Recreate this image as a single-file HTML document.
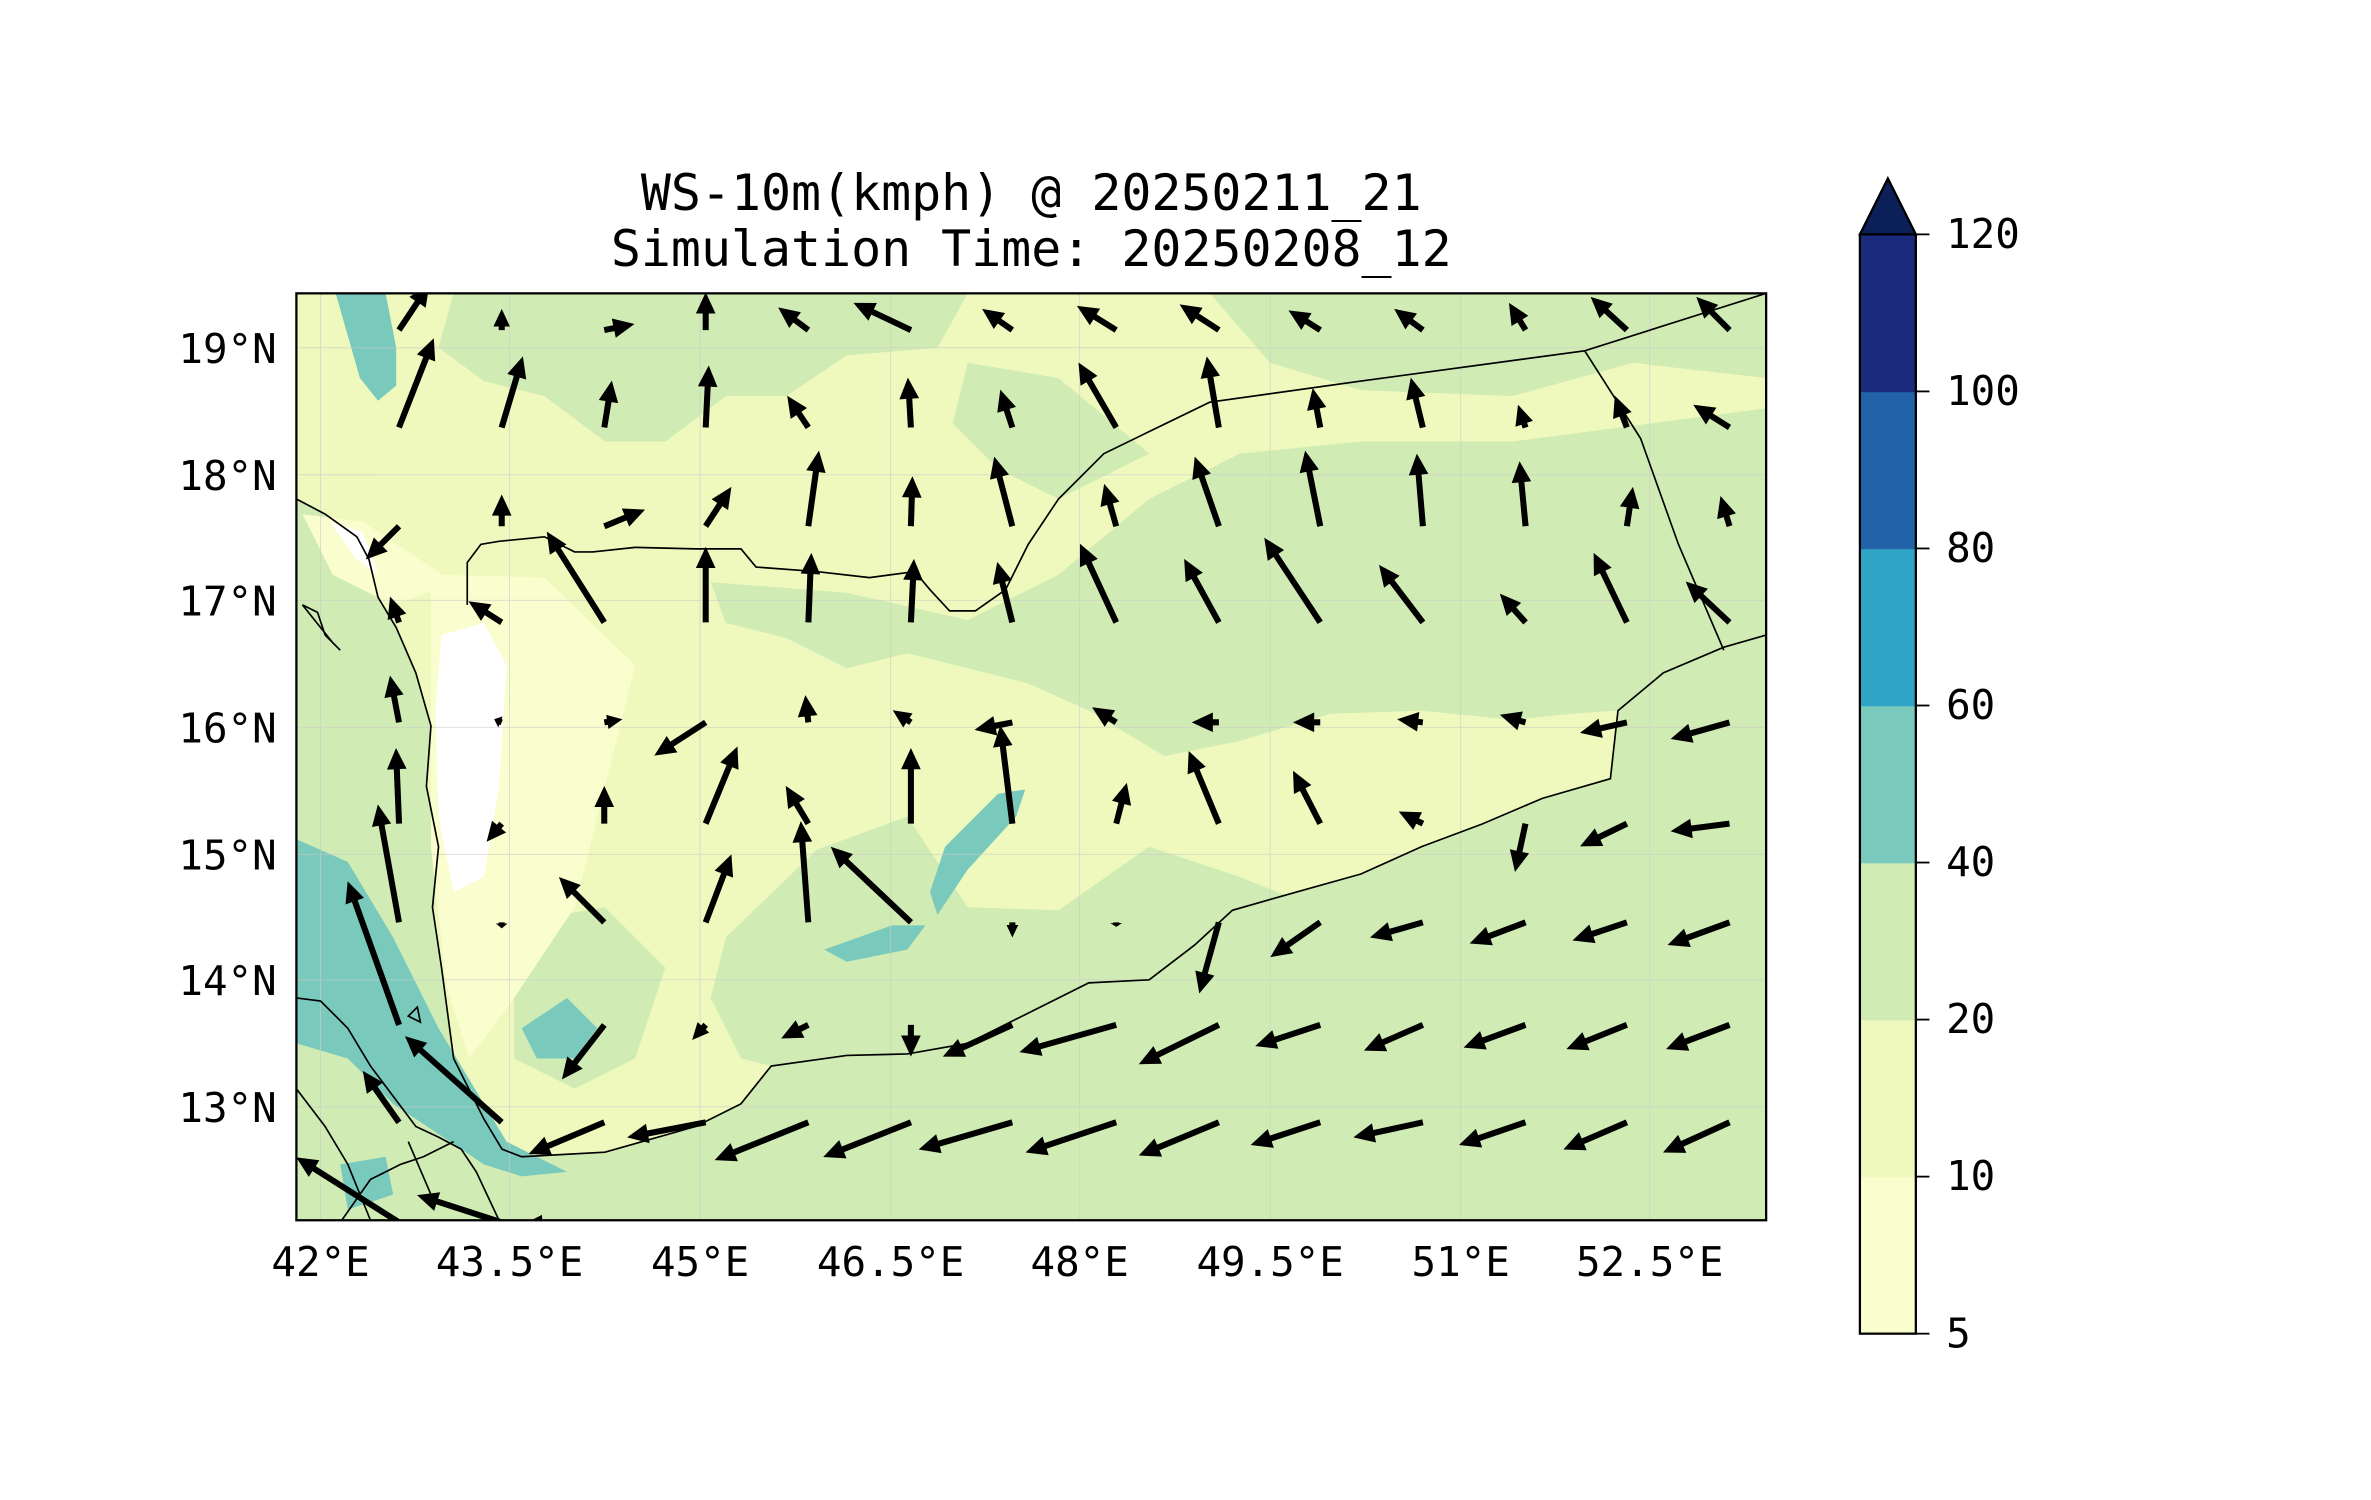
<!DOCTYPE html>
<html><head><meta charset="utf-8"><title>WS-10m wind chart</title>
<style>
html,body{margin:0;padding:0;background:#fff;}
svg{display:block;}
text{font-family:"DejaVu Sans Mono","Liberation Mono",monospace;fill:#000;}
</style></head>
<body>
<svg id="chart" width="2371" height="1500" viewBox="0 0 1568 992" xmlns="http://www.w3.org/2000/svg">
<defs><clipPath id="plotclip"><rect x="196" y="194" width="972" height="613"/></clipPath></defs>
<rect x="0" y="0" width="1568" height="992" fill="#fff"/>
<text x="682" y="139" font-size="33" text-anchor="middle">WS-10m(kmph) @ 20250211_21</text>
<text x="682" y="176" font-size="33" text-anchor="middle">Simulation Time: 20250208_12</text>
<g clip-path="url(#plotclip)">
 <rect x="196" y="194" width="972" height="613" fill="#d0ecb4"/>
 <path fill="#eff9bd" d="M196,330 L196,194 L1168,194 L1168,420 L1140,428 L1100,445 L1070,470 L1065,515 L1020,528 L980,545 L940,560 L900,578 L850,592 L815,602 L790,625 L760,648 L720,650 L680,670 L640,690 L600,697 L560,698 L510,705 L490,730 L460,745 L400,762 L345,765 L332,760 L320,740 L300,700 L292,640 L286,600 L290,560 L282,520 L285,480 L275,445 L262,415 L250,395 L244,370 L236,355 L215,340 Z"/>
 <g fill="#d0ecb4">
  <path d="M470,385 L560,392 L640,410 L700,380 L760,330 L820,300 L900,292 L1000,292 L1168,270 L1168,420 L1100,445 L1070,470 L1040,472 L1000,476 L940,470 L880,472 L820,490 L770,500 L720,470 L680,452 L640,442 L600,432 L560,442 L520,422 L480,412 Z"/>
  <path d="M300,194 L640,194 L620,230 L560,235 L520,262 L480,262 L440,292 L400,292 L360,262 L320,252 L290,230 Z"/>
  <path d="M640,240 L700,250 L760,300 L700,330 L660,310 L630,280 Z"/>
  <path d="M800,194 L1168,194 L1168,250 L1080,240 L1000,262 L900,258 L840,240 Z"/>
  <path d="M196,400 L240,400 L262,440 L280,520 L288,600 L240,570 L196,560 Z"/>
  <path d="M480,620 L540,562 L600,540 L640,600 L700,602 L760,560 L820,580 L850,592 L815,602 L790,625 L760,648 L720,650 L680,670 L640,690 L600,697 L560,698 L510,705 L490,700 L470,660 Z"/>
  <path d="M340,610 L400,600 L440,640 L420,700 L380,720 L340,700 Z"/>
 </g>
 <g>
  <path fill="#fafdce" d="M285,380 L360,382 L420,440 L400,520 L380,600 L340,660 L310,700 L295,650 L285,560 Z"/>
  <path fill="#fafdce" d="M200,340 L240,345 L300,385 L260,400 L220,380 Z"/>
  <path fill="#ffffff" d="M292,420 L320,412 L335,440 L330,520 L320,580 L300,590 L290,540 L288,470 Z"/>
  <path fill="#ffffff" d="M218,345 L240,352 L250,380 L236,370 Z"/>
 </g>
 <g fill="#79c9bc">
  <path d="M196,555 L230,570 L260,620 L290,680 L320,730 L335,755 L375,775 L345,778 L320,770 L290,750 L260,730 L230,700 L196,690 Z"/>
  <path d="M222,194 L255,194 L262,230 L262,255 L250,265 L238,250 L228,215 Z"/>
  <path d="M625,560 L660,525 L678,522 L672,540 L640,575 L620,605 L615,590 Z"/>
  <path d="M545,628 L590,612 L612,612 L600,628 L560,636 Z"/>
  <path d="M345,680 L375,660 L395,680 L380,700 L355,700 Z"/>
  <path d="M225,770 L255,765 L260,790 L230,800 Z"/>
 </g>
 <g stroke="#cccccc" stroke-width="0.6" opacity="0.7">
  <line x1="212" y1="194" x2="212" y2="807"/><line x1="337" y1="194" x2="337" y2="807"/><line x1="463" y1="194" x2="463" y2="807"/><line x1="589" y1="194" x2="589" y2="807"/><line x1="714" y1="194" x2="714" y2="807"/><line x1="840" y1="194" x2="840" y2="807"/><line x1="966" y1="194" x2="966" y2="807"/><line x1="1091" y1="194" x2="1091" y2="807"/>
  <line x1="196" y1="230" x2="1168" y2="230"/><line x1="196" y1="314" x2="1168" y2="314"/><line x1="196" y1="397" x2="1168" y2="397"/><line x1="196" y1="481" x2="1168" y2="481"/><line x1="196" y1="565" x2="1168" y2="565"/><line x1="196" y1="648" x2="1168" y2="648"/><line x1="196" y1="732" x2="1168" y2="732"/>
 </g>
 <g fill="none" stroke="#000" stroke-width="1.1">
  <path d="M1168,420 L1140,428 L1100,445 L1070,470 L1065,515 L1020,528 L980,545 L940,560 L900,578 L850,592 L815,602 L790,625 L760,648 L720,650 L680,670 L640,690 L600,697 L560,698 L510,705 L490,730 L460,745 L400,762 L345,765 L332,760 L320,740 L300,700 L292,640 L286,600 L290,560 L282,520 L285,480 L275,445 L262,415 L250,395 L244,370 L236,355 L215,340 L196,330"/>
  <path d="M309,400 L309,372 L318,360 L330,358 L360,355 L380,365 L392,365 L420,362 L460,363 L490,363 L500,375 L540,378 L575,382 L605,378 L615,390 L628,404 L645,404 L665,390 L680,360 L700,330 L730,300 L800,266 L900,252 L1048,232 L1168,194"/>
  <path d="M1048,232 L1085,290 L1110,360 L1140,430"/>
  <path d="M196,660 L212,662 L230,680 L245,705 L260,725 L275,745 L290,752 L305,760 L315,775 L330,807"/>
  <path d="M196,720 L215,745 L230,770 L245,807 M226,807 L245,780 L265,770 L280,765 L300,755 M270,755 L285,790"/>
  <path d="M200,400 L210,405 L215,420 L225,430 L220,425 Z M270,672 L276,666 L278,676 Z"/>
 </g>
 <g id="arrows"></g>
</g>
<rect x="196" y="194" width="972" height="613" fill="none" stroke="#000" stroke-width="1.5"/>
<g font-size="27">
 <text x="183" y="240" text-anchor="end">19°N</text>
 <text x="183" y="324" text-anchor="end">18°N</text>
 <text x="183" y="407" text-anchor="end">17°N</text>
 <text x="183" y="491" text-anchor="end">16°N</text>
 <text x="183" y="575" text-anchor="end">15°N</text>
 <text x="183" y="658" text-anchor="end">14°N</text>
 <text x="183" y="742" text-anchor="end">13°N</text>
</g>
<g font-size="27" text-anchor="middle">
 <text x="212" y="844">42°E</text>
 <text x="337" y="844">43.5°E</text>
 <text x="463" y="844">45°E</text>
 <text x="589" y="844">46.5°E</text>
 <text x="714" y="844">48°E</text>
 <text x="840" y="844">49.5°E</text>
 <text x="966" y="844">51°E</text>
 <text x="1091" y="844">52.5°E</text>
</g>
<g id="colorbar"></g>
<script>
// Quiver grid data (wind components, km/h; u east, v north)
const lons = [42.62, 43.43, 44.24, 45.04, 45.85, 46.66, 47.46, 48.28, 49.09, 49.89, 50.70, 51.51, 52.31, 53.12];
const lats = [19.14, 18.37, 17.59, 16.83, 16.04, 15.24, 14.46, 13.65, 12.88, 12.09];
const uRows = [
 [10,0,10,0,-10,-19,-10,-13,-13,-10.5,-9.5,-5.5,-12,-11],
 [11.5,7,2.5,1,-7,-1,-4,-12.5,-4,-2.5,-4,-2.5,-4,-12],
 [-11,0,13.5,8.5,3.5,0.5,-6,-4,-8,-5,-2,-2,2,-3],
 [-3,-11,-19,0,1,1,-5,-12,-11.5,-18.5,-14.5,-8.5,-11,-14.5],
 [-3,-2.5,6,-17,-1,-6,-12.5,-8,-9,-9,-8.5,-8.5,-15.5,-19.5],
 [-1,-5,0,10.5,-7.5,0,-4,3.5,-10,-9,-8,-3.5,-15.5,-19.5],
 [-7,0,-15,8.5,-2.5,-26.5,0,0,-6.5,-16.5,-17.5,-18.5,-18,-20.5],
 [-17,null,-14,-4.5,-9,0,-23,-32,-26.5,-21.5,-19.5,-20.5,-20,-21],
 [-12,-32,-25,-26,-31,-29,-31,-30,-26.5,-23,-23,-22,-21,-22],
 [-34,-28,-27.5,null,null,null,null,null,null,null,null,null,null,null]
];
const vRows = [
 [15,7,2,12.5,7.5,9,7,8,8.5,6.5,7,9,11,11],
 [29.5,23.5,15.5,20.5,10.5,16.5,12.5,21.5,23.5,13,16.5,7.5,10.5,7.5],
 [-11,10.5,5.5,13,25,16.5,23,14,23,25,24,21.5,13,10],
 [8.5,7,30,25,23,21,20,26,21,28,19,9.5,23,13.5],
 [15.5,1,1,-11,9,4,-2.5,5,0,0,1,2.5,-3.5,-5.5],
 [25,-6,12.5,25.5,12.5,25,32.5,13.5,24,17.5,4,-16,-7.5,-2.5],
 [39,-2,15,22.5,33.5,25,-5,-1.5,-23.5,-11.5,-5,-7,-6,-7.5],
 [47.5,null,-18,-5,-4.5,-10.5,-10.5,-9,-13,-7,-8.5,-7.5,-8,-8],
 [17,28.5,-10.5,-5,-12.5,-11.5,-9,-10,-11,-7.5,-5,-7.5,-9,-10],
 [21.5,9,-1,null,null,null,null,null,null,null,null,null,null,null]
];
const cbLevels = ["5","10","20","40","60","80","100","120"];
const cbColors = ["#fafdce","#eff9bd","#d0ecb4","#79c9bc","#2fa4c6","#2262a8","#1c2a7e"];
const cbExtendColor = "#0b1f58";

const NS = "http://www.w3.org/2000/svg";
function xOf(lon){ return 196 + (lon - 41.81) * 83.8; }
function yOf(lat){ return 194 + (19.43 - lat) * 83.7; }
const PX_PER_KMH = 2;

const ag = document.getElementById("arrows");
for (let j = 0; j < lats.length; j++) {
  for (let i = 0; i < lons.length; i++) {
    const u = uRows[j][i], v = vRows[j][i];
    if (u === null || v === null || u === undefined) continue;
    const x0 = xOf(lons[i]), y0 = yOf(lats[j]);
    const dx = u * PX_PER_KMH, dy = -v * PX_PER_KMH;
    const L = Math.hypot(dx, dy);
    if (L < 0.5) continue;
    const ux = dx / L, uy = dy / L, px = -uy, py = ux;
    let hl = 14, hw = 6.5, sw = 2;
    if (L < hl * 1.2) { const s = L / (hl * 1.2); hl *= s; hw *= Math.max(s, 0.6); }
    const bx = x0 + ux * (L - hl), by = y0 + uy * (L - hl);
    const pts = [
      [x0 + px * sw, y0 + py * sw], [bx + px * sw, by + py * sw], [bx + px * hw, by + py * hw],
      [x0 + dx, y0 + dy],
      [bx - px * hw, by - py * hw], [bx - px * sw, by - py * sw], [x0 - px * sw, y0 - py * sw]
    ];
    const p = document.createElementNS(NS, "polygon");
    p.setAttribute("points", pts.map(q => q[0].toFixed(1) + "," + q[1].toFixed(1)).join(" "));
    p.setAttribute("fill", "#000");
    
    
    ag.appendChild(p);
  }
}

const cb = document.getElementById("colorbar");
const cbX = 1230, cbW = 37, cbTop = 155, cbBot = 882;
const seg = (cbBot - cbTop) / cbColors.length;
for (let k = 0; k < cbColors.length; k++) {
  const r = document.createElementNS(NS, "rect");
  r.setAttribute("x", cbX); r.setAttribute("y", cbBot - (k + 1) * seg);
  r.setAttribute("width", cbW); r.setAttribute("height", seg + 0.5);
  r.setAttribute("fill", cbColors[k]);
  
  
  cb.appendChild(r);
}
const tri = document.createElementNS(NS, "polygon");
tri.setAttribute("points", cbX + "," + cbTop + " " + (cbX + cbW / 2) + ",118 " + (cbX + cbW) + "," + cbTop);
tri.setAttribute("fill", cbExtendColor);
tri.setAttribute("stroke", "#000"); tri.setAttribute("stroke-width", "1.5");


cb.appendChild(tri);
const fr = document.createElementNS(NS, "rect");
fr.setAttribute("x", cbX); fr.setAttribute("y", cbTop); fr.setAttribute("width", cbW); fr.setAttribute("height", cbBot - cbTop);
fr.setAttribute("fill", "none"); fr.setAttribute("stroke", "#000"); fr.setAttribute("stroke-width", "1.5");


cb.appendChild(fr);
for (let k = 0; k < cbLevels.length; k++) {
  const y = cbBot - k * seg;
  const t = document.createElementNS(NS, "line");
  t.setAttribute("x1", cbX + cbW); t.setAttribute("x2", cbX + cbW + 9);
  t.setAttribute("y1", y); t.setAttribute("y2", y);
  t.setAttribute("stroke", "#000"); t.setAttribute("stroke-width", "1.2");
  
  
  cb.appendChild(t);
  const tx = document.createElementNS(NS, "text");
  tx.setAttribute("x", cbX + cbW + 20); tx.setAttribute("y", y + 9);
  tx.setAttribute("font-size", "27");
  tx.textContent = cbLevels[k];
  
  
  cb.appendChild(tx);
}
</script>
</svg>
</body></html>
